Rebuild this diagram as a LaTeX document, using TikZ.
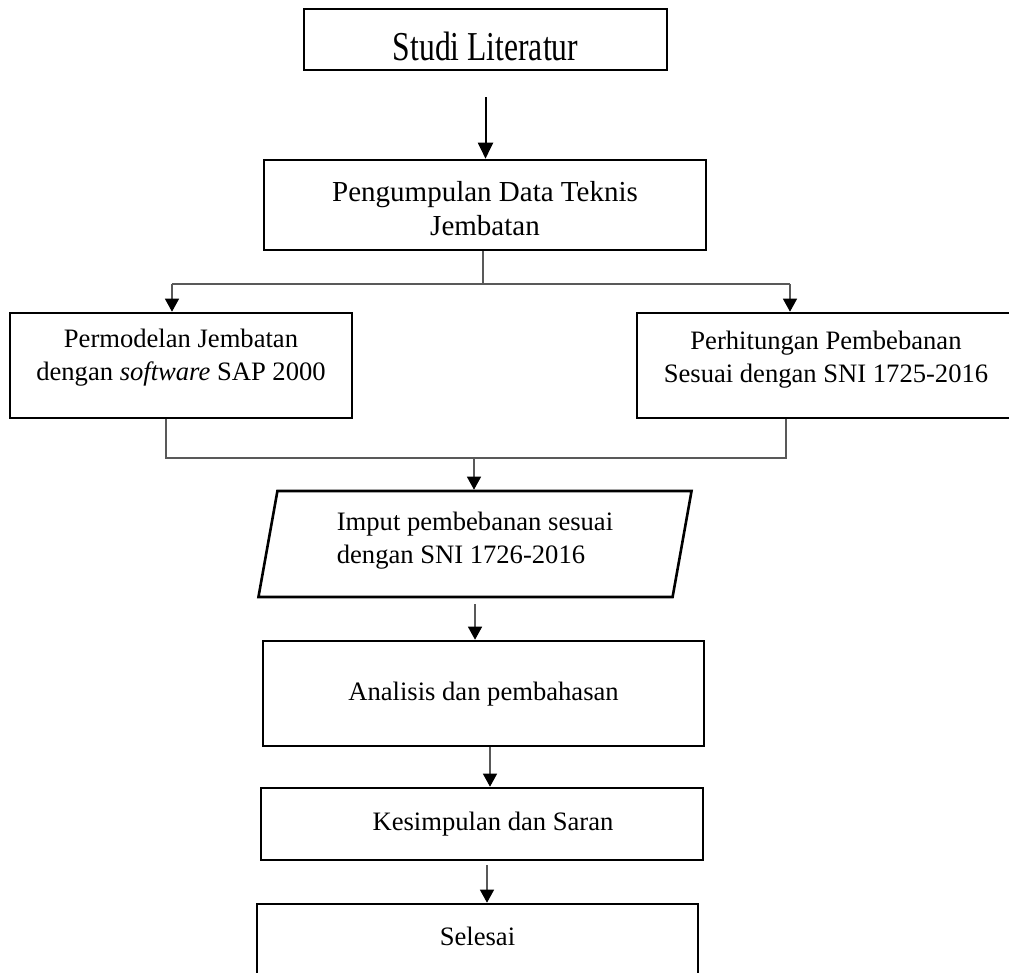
\documentclass[tikz,border=0pt]{standalone}
\usepackage{fontspec}
\setmainfont{Liberation Serif}
\usepackage{graphicx}
\usetikzlibrary{arrows.meta,shapes.geometric}

\newcommand{\boxfont}{\fontsize{26.6}{33}\selectfont}

\begin{document}
\begin{tikzpicture}[x=1pt,y=-1pt,
  box/.style={draw, line width=2.6pt, font=\boxfont, align=center, inner sep=0pt},
  link/.style={draw=black!65, line width=1.3pt},
  tip/.style={-{Triangle[width=14pt,length=13pt,color=black]}}]
\useasboundingbox (0,0) rectangle (1009,972);

% Parameters
\def\splitY{284}; \def\mergeY{458};

% Boxes
\node[box, minimum width=363, minimum height=61, text height=41pt, text depth=0pt]
  (studi) at (485.5,39.5) {\fontsize{31.6}{36}\selectfont\scalebox{1}[1.3]{Studi Literatur}};
\node[box, minimum width=442, minimum height=90, font=\fontsize{29}{34}\selectfont,
  text height=60pt, text depth=0pt]
  (peng) at (485,205) {Pengumpulan Data Teknis\\Jembatan};
\node[box, minimum width=342, minimum height=105, text depth=22pt]
  (perm) at (181,365.5) {Permodelan Jembatan\\dengan \textit{software} SAP 2000};
\node[box, minimum width=400, minimum height=105, text depth=17pt]
  (hitung) at (837,365.5) {Perhitungan Pembebanan\hspace*{22pt}\\Sesuai dengan SNI 1725-2016\hspace*{22pt}};
\node[box, trapezium, trapezium left angle=78.2, trapezium right angle=101.8,
  trapezium stretches=true, minimum width=434, minimum height=106, align=left, text depth=12pt]
  (imput) at (475,544) {Imput pembebanan sesuai\\dengan SNI 1726-2016};
\node[box, minimum width=441, minimum height=105, text height=13pt, text depth=0pt]
  (anal) at (483.5,693.5) {Analisis dan pembahasan};
\node[box, minimum width=442, minimum height=72, text height=12pt, text depth=0pt]
  (kesim) at (482,824) {\hspace*{22pt}Kesimpulan dan Saran};
\node[box, minimum width=441, minimum height=71, text height=11pt, text depth=0pt]
  (sele) at (477.5,939.5) {Selesai};

% Branch points
\coordinate (split) at (483,\splitY);
\coordinate (splitL) at (172,\splitY);
\coordinate (splitR) at (790,\splitY);
\coordinate (merge) at (474,\mergeY);
\coordinate (mergeL) at (166,\mergeY);
\coordinate (mergeR) at (786,\mergeY);

% Connectors
\draw[black, line width=2pt, -{Triangle[width=15pt,length=16pt]}]
  ([yshift=-26pt]studi.south) -- (studi.south |- peng.north);
\draw[link] (split |- peng.south) -- (split);
\draw[link] (splitL) -- (splitR);
\draw[link, tip] (splitL) -- (splitL |- perm.north);
\draw[link, tip] (splitR) -- (splitR |- hitung.north);
\draw[link] (mergeL |- perm.south) -- (mergeL) -- (mergeR) -- (mergeR |- hitung.south);
\draw[link, tip] (merge) -- (merge |- imput.north);
\draw[link, tip] ([yshift=-6pt]imput.south) -- (imput.south |- anal.north);
\draw[link, tip] ([xshift=6.5pt]anal.south) -- ([xshift=6.5pt]anal.south |- kesim.north);
\draw[link, tip] ([shift={(5pt,-4pt)}]kesim.south) -- ([xshift=5pt]kesim.south |- sele.north);
\end{tikzpicture}
\end{document}
